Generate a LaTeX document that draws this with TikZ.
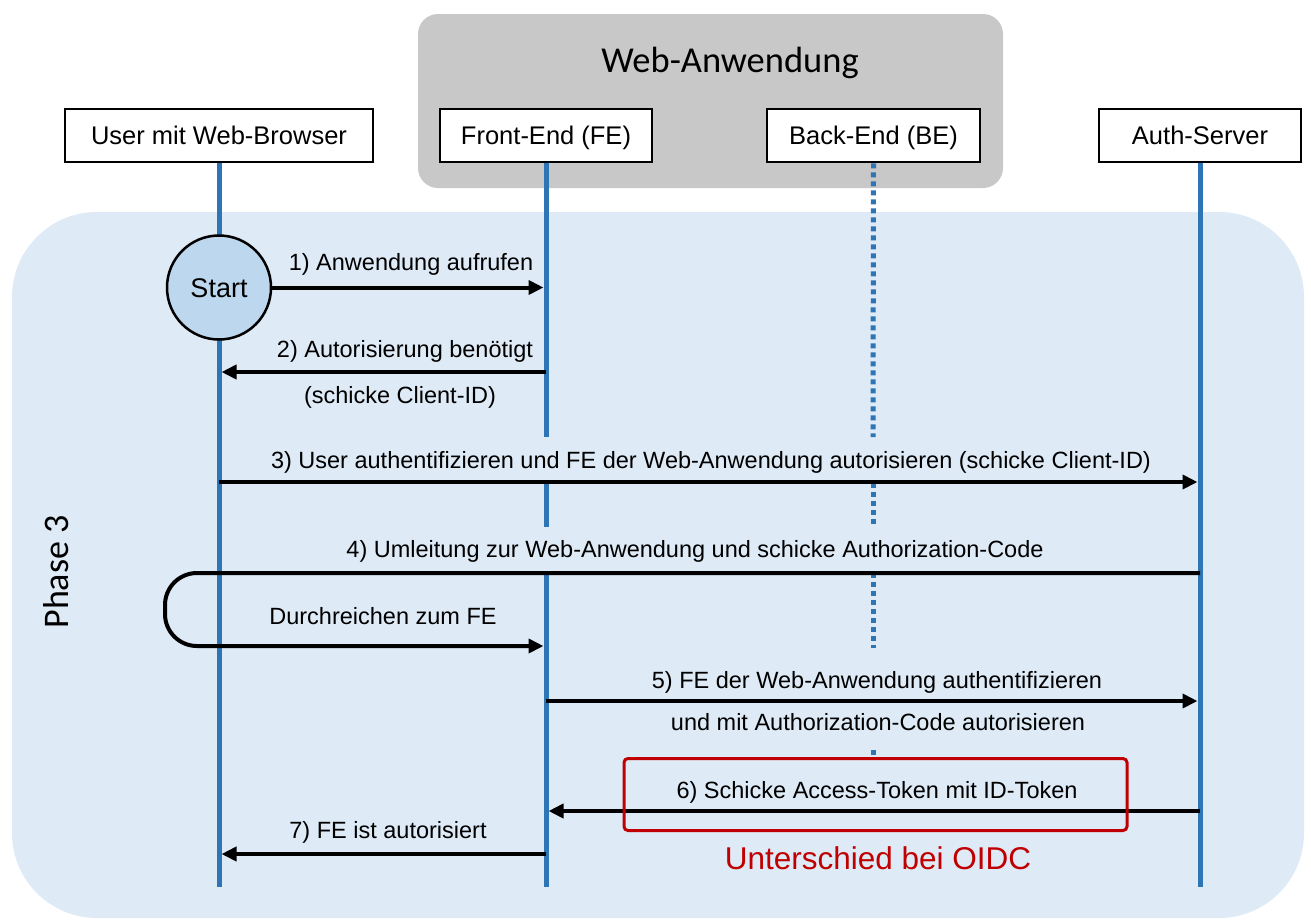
\documentclass[tikz,border=0pt]{standalone}
\usepackage{fontspec}
\setmainfont{Liberation Sans}
\newfontfamily\calibri{Carlito}
\usetikzlibrary{arrows.meta}
\definecolor{lifeblue}{HTML}{2E75B6}
\definecolor{phasebg}{HTML}{DEEAF6}
\definecolor{groupgray}{HTML}{C8C8C8}
\definecolor{startfill}{HTML}{BDD7EE}
\definecolor{oidcred}{HTML}{C00000}
\tikzset{
  actor/.style={draw, line width=2.5pt, fill=white, minimum height=53pt, inner sep=0pt,
    font=\fontsize{25.5}{30}\selectfont, text height=18.5pt, text depth=0pt},
  lifeline/.style={draw=lifeblue, line width=5pt},
  dotline/.style={draw=lifeblue, line width=5pt, dash pattern=on 5pt off 4pt},
  msg/.style={line width=4pt, -{Triangle[length=15pt,width=14pt]}},
  lbl/.style={font=\fontsize{23.5}{28}\selectfont, inner sep=0pt, text height=17pt, text depth=0pt},
}
\begin{document}
\begin{tikzpicture}[x=1pt,y=-1pt]
\useasboundingbox (0,0) rectangle (1311,919);

% phase background and application group
\fill[phasebg, rounded corners=85pt] (12,212) rectangle (1304,918);
\fill[groupgray, rounded corners=20pt] (418,14) rectangle (1003,188);
\node[font=\calibri\fontsize{36.5}{40}\selectfont, inner sep=0pt, text height=24pt, text depth=0pt] (webapp) at (730,60) {Web-Anwendung};
\node[font=\calibri\fontsize{36}{40}\selectfont, inner sep=0pt, rotate=90, text height=23pt, text depth=0pt] (phase) at (57,572) {Phase 3};

% participants
\node[actor, minimum width=308pt] (user) at (219,135.5) {User mit Web-Browser};
\node[actor, minimum width=212pt] (fe) at (546,135.5) {Front-End (FE)};
\node[actor, minimum width=213pt] (be) at (873.5,135.5) {Back-End (BE)};
\node[actor, minimum width=202pt] (auth) at (1200,135.5) {Auth-Server};

% lifelines
\coordinate (uEnd) at (219,887);
\coordinate (aEnd) at (1200,887);
\draw[lifeline] (user.south) -- (uEnd);
\draw[lifeline] (auth.south) -- (aEnd);
\coordinate (feA) at (546,437);
\coordinate (feB) at (546,483);
\coordinate (feC) at (546,527);
\coordinate (feD) at (546,573);
\coordinate (feEnd) at (546,887);
\draw[lifeline] (fe.south) -- (feA);
\draw[lifeline] (feB) -- (feC);
\draw[lifeline] (feD) -- (feEnd);
\coordinate (beA) at (873,437);
\coordinate (beB) at (873,483);
\coordinate (beC) at (873,527);
\coordinate (beD) at (873,573);
\coordinate (beE) at (873,648);
\coordinate (beF) at (873,750);
\coordinate (beG) at (873,756);
\draw[dotline] (be.south) -- (beA);
\draw[dotline] (beB) -- (beC);
\draw[dotline] (beD) -- (beE);
\draw[dotline] (beF) -- (beG);

% start
\node[circle, draw, line width=2.5pt, fill=startfill, minimum size=104pt, inner sep=0pt,
  font=\fontsize{27}{32}\selectfont, text height=19.5pt, text depth=0pt] (start) at (219,287.5) {Start};

% 1)
\coordinate (fe1) at (543.5,287.5);
\draw[msg] (start.east) -- (fe1);
\node[lbl] (l1) at (411,262) {1) Anwendung aufrufen};

% 2)
\coordinate (fe2) at (546,372);
\coordinate (u2) at (221.5,372);
\draw[msg] (fe2) -- (u2);
\node[lbl] (l2) at (405,349) {2) Autorisierung benötigt};
\node[lbl] (l2b) at (400,395) {(schicke Client-ID)};

% 3)
\coordinate (u3) at (219,482);
\coordinate (a3) at (1197.5,482);
\draw[msg] (u3) -- (a3);
\node[lbl] (l3) at (711,460) {3) User authentifizieren und FE der Web-Anwendung autorisieren (schicke Client-ID)};

% 4) redirect, passed through the browser
\coordinate (a4) at (1200,573);
\coordinate (loopT) at (165,573);
\coordinate (loopB) at (165,646);
\coordinate (fe4) at (543.5,646);
\draw[msg, rounded corners=32pt] (a4) -- (loopT) -- (loopB) -- (fe4);
\node[lbl] (l4) at (695,549) {4) Umleitung zur Web-Anwendung und schicke Authorization-Code};
\node[lbl] (l4b) at (383,616) {Durchreichen zum FE};

% 5)
\coordinate (fe5) at (546,701);
\coordinate (a5) at (1197.5,701);
\draw[msg] (fe5) -- (a5);
\node[lbl] (l5) at (877,680) {5) FE der Web-Anwendung authentifizieren};
\node[lbl] (l5b) at (878,722) {und mit Authorization-Code autorisieren};

% 6)
\coordinate (a6) at (1200,811);
\coordinate (fe6) at (548.5,811);
\draw[msg] (a6) -- (fe6);
\node[lbl] (l6) at (877,790) {6) Schicke Access-Token mit ID-Token};
\node[draw=oidcred, line width=3pt, rounded corners=4pt, minimum width=503pt, minimum height=72pt, inner sep=0pt] (oidc) at (875.5,794.5) {};
\node[font=\fontsize{31.5}{36}\selectfont, text=oidcred, inner sep=0pt, text height=22.5pt, text depth=0pt] (oidcl) at (878,858) {Unterschied bei OIDC};

% 7)
\coordinate (fe7) at (546,854);
\coordinate (u7) at (221.5,854);
\draw[msg] (fe7) -- (u7);
\node[lbl] (l7) at (388,830) {7) FE ist autorisiert};
\end{tikzpicture}
\end{document}
